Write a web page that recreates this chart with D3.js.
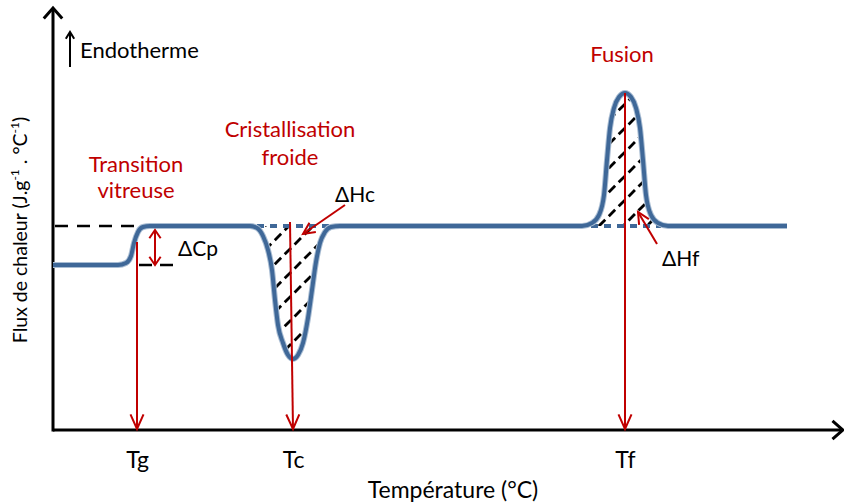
<!DOCTYPE html>
<html><head><meta charset="utf-8">
<script src="https://cdn.jsdelivr.net/npm/d3@7"></script>
<style>body{margin:0;background:#fff}svg{display:block}text{font-family:Lato,"Open Sans",sans-serif}</style>
</head><body><svg id="c" width="844" height="504"></svg>
<script>
// ---- data (arbitrary temperature / heat-flux units)
const curveTemp = [0,65,73,78,81,85,90,97,197,204,210,215,219,222,225,230,235,240,245,250,255,259,263,267,272,278,287,529,539,546,551,554,557,561,566,572,578,583,587,590,593,598,605,615,734];
const curveFlux = [165,165,167,174,187,198,203,204,204,202,194,180,160,130,105,87,75,71,75,87,112,140,168,187,198,203,204,204,207,215,235,270,302,322,333,337,333,322,302,270,235,215,207,204,204];
const baseHigh = 204, baseLow = 165;
const eventNames = ["Tg","Tc","Tf"];
const eventTemps = [84, 240, 572];
const eventTopTemps = [84, 237, 572];
const eventTopFlux = [188, 208, 337];
const dipRange = [204, 280], peakRange = [538, 608];
const xDomain = [0, 790], yDomain = [0, 420];

const svg = d3.select("#c");
const x = d3.scaleLinear().domain(xDomain).range([53, 843]);
const y = d3.scaleLinear().domain(yDomain).range([430, 10]);
const red = "#c00000", blue = "#3f6898";
const pts = curveTemp.map((t,i)=>[t, curveFlux[i]]);

function chevron(g, tx, ty, ang, len, spread, color, w){
  const a1 = ang + Math.PI - spread, a2 = ang + Math.PI + spread;
  g.append("path").attr("d", `M${tx+len*Math.cos(a1)},${ty+len*Math.sin(a1)}L${tx},${ty}L${tx+len*Math.cos(a2)},${ty+len*Math.sin(a2)}`)
   .attr("fill","none").attr("stroke",color).attr("stroke-width",w).attr("stroke-linejoin","miter");
}

// axes
const xAxis = d3.axisBottom(x).tickValues(eventTemps).tickFormat((d,i)=>eventNames[i]).tickSize(0).tickPadding(22);
const gx = svg.append("g").attr("transform",`translate(0,${y(0)})`).call(xAxis);
gx.select(".domain").attr("stroke","#000").attr("stroke-width",3).attr("d",`M${x(0)},0H${x(xDomain[1])-2}`);
gx.selectAll("text").attr("font-size",23).attr("fill","#000").attr("font-family","Lato");
const yAxis = d3.axisLeft(y).tickValues([]).tickSize(0);
const gy = svg.append("g").attr("transform",`translate(${x(0)},0)`).call(yAxis);
gy.select(".domain").attr("stroke","#000").attr("stroke-width",3).attr("d",`M0,${y(0)+1.5}V${y(yDomain[1])-1}`);
chevron(svg, x(xDomain[1]), y(0), 0, 14, 0.72, "#000", 3);
chevron(svg, x(0), y(yDomain[1])-2, -Math.PI/2, 14, 0.72, "#000", 3);

// hatching clip areas
const area = d3.area().x(d=>x(d[0])).y0(y(baseHigh)).y1(d=>y(d[1])).curve(d3.curveMonotoneX);
[["dip",dipRange],["peak",peakRange]].forEach(([id,r])=>{
  svg.append("clipPath").attr("id","clip-"+id).append("path").datum(pts.filter(p=>p[0]>=r[0]&&p[0]<=r[1])).attr("d",area);
  const g = svg.append("g").attr("clip-path",`url(#clip-${id})`);
  const x0 = x(r[0]), x1 = x(r[1]);
  for(let c = -200; c < 400; c += 24){
    g.append("line").attr("x1",x0-200).attr("y1",y(baseHigh)+c).attr("x2",x1+200).attr("y2",y(baseHigh)+c-(x1-x0+400))
     .attr("stroke","#000").attr("stroke-width",2.8).attr("stroke-dasharray","9,5");
  }
  svg.append("line").attr("x1",x0).attr("x2",x1).attr("y1",y(baseHigh)).attr("y2",y(baseHigh))
     .attr("stroke",blue).attr("stroke-width",4).attr("stroke-dasharray","7,6");
});

// baseline extrapolations
svg.append("line").attr("x1",x(0)+2).attr("x2",x(92)).attr("y1",y(baseHigh)).attr("y2",y(baseHigh))
   .attr("stroke","#000").attr("stroke-width",2.6).attr("stroke-dasharray","13,9");
svg.append("line").attr("x1",x(86)).attr("x2",x(120)).attr("y1",y(baseLow)).attr("y2",y(baseLow))
   .attr("stroke","#000").attr("stroke-width",2.6).attr("stroke-dasharray","13,8");

// curve
const line = d3.line().x(d=>x(d[0])).y(d=>y(d[1])).curve(d3.curveMonotoneX);
svg.append("path").datum(pts).attr("d",line).attr("fill","none").attr("stroke","#a9bdd3").attr("stroke-width",6);
svg.append("path").datum(pts).attr("d",line).attr("fill","none").attr("stroke",blue).attr("stroke-width",4);

// red event lines
eventTemps.forEach((t,i)=>{
  svg.append("line").attr("x1",x(eventTopTemps[i])).attr("y1",y(eventTopFlux[i])).attr("x2",x(t)).attr("y2",y(0)-1)
    .attr("stroke",red).attr("stroke-width",2);
  const ang = Math.atan2(y(0)-y(eventTopFlux[i]), x(t)-x(eventTopTemps[i]));
  chevron(svg, x(t), y(0)-1, ang, 16, 0.42, red, 2);
});

// delta Cp double arrow
const cpX = x(102);
svg.append("line").attr("x1",cpX).attr("x2",cpX).attr("y1",y(baseHigh)+4).attr("y2",y(baseLow)).attr("stroke",red).attr("stroke-width",2);
chevron(svg, cpX, y(baseHigh)+4, -Math.PI/2, 10, 0.6, red, 2);
chevron(svg, cpX, y(baseLow), Math.PI/2, 10, 0.6, red, 2);

// enthalpy arrows
function redArrow(t0,f0,t1,f1){
  svg.append("line").attr("x1",x(t0)).attr("y1",y(f0)).attr("x2",x(t1)).attr("y2",y(f1)).attr("stroke",red).attr("stroke-width",2);
  chevron(svg, x(t1), y(f1), Math.atan2(y(f1)-y(f0), x(t1)-x(t0)), 13, 0.45, red, 2);
}
redArrow(292,225, 250,196);
redArrow(604,186, 585,218);

// texts
function txt(s,t,f,opt={}){
  return svg.append("text").attr("x",x(t)).attr("y",y(f)).attr("font-size",opt.size||22)
    .attr("fill",opt.color||"#000").attr("text-anchor",opt.anchor||"start").text(s);
}
txt("Transition",83,258,{color:red,anchor:"middle"});
txt("vitreuse",83,232,{color:red,anchor:"middle"});
txt("Cristallisation",237,293,{color:red,anchor:"middle"});
txt("froide",237,265,{color:red,anchor:"middle"});
txt("Fusion",569,368,{color:red,anchor:"middle"});
txt("ΔCp",125,174,{size:21});
txt("ΔHc",282,228,{size:21});
txt("ΔHf",609,164,{size:21});
txt("Endotherme",27,372);
svg.append("line").attr("x1",x(17)).attr("x2",x(17)).attr("y1",y(363)).attr("y2",y(398)).attr("stroke","#000").attr("stroke-width",2);
chevron(svg, x(17), y(398), -Math.PI/2, 8, 0.55, "#000", 2);

svg.append("text").attr("x",x(400)).attr("y",498).attr("text-anchor","middle").attr("font-size",23).text("Température (°C)");
const yl = svg.append("text").attr("transform",`translate(27,${y(200)}) rotate(-90)`).attr("text-anchor","middle").attr("font-size",19.5);
yl.append("tspan").text("Flux de chaleur (J.g");
yl.append("tspan").attr("font-size",12).attr("dy",-8).text("-1");
yl.append("tspan").attr("dy",8).text(" . °C");
yl.append("tspan").attr("font-size",12).attr("dy",-8).text("-1");
yl.append("tspan").attr("dy",8).text(")");
</script></body></html>
